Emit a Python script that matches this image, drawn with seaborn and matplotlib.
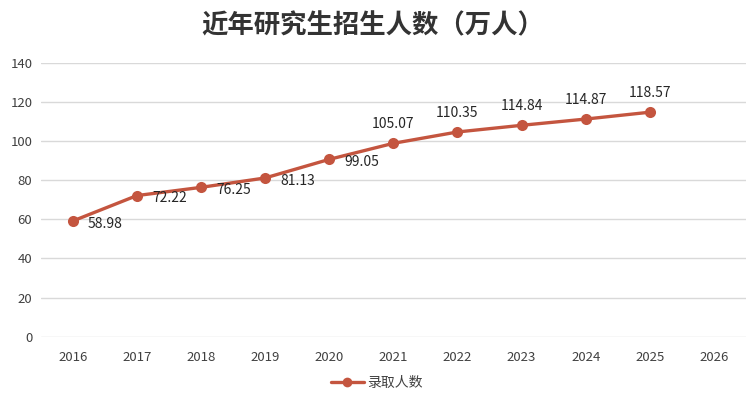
import matplotlib
matplotlib.use("Agg")
import matplotlib.pyplot as plt
import seaborn as sns
import pandas as pd
from matplotlib.lines import Line2D

years = [2016, 2017, 2018, 2019, 2020, 2021, 2022, 2023, 2024, 2025]
values = [59.1, 72.1, 76.3, 81.1, 90.6, 98.8, 104.6, 108.0, 111.2, 114.7]
labels = ["58.98", "72.22", "76.25", "81.13", "99.05", "105.07", "110.35", "114.84", "114.87", "118.57"]
xticks = [2016, 2017, 2018, 2019, 2020, 2021, 2022, 2023, 2024, 2025, 2026]
yticks = [0, 20, 40, 60, 80, 100, 120, 140]
title = "近年研究生招生人数（万人）"
series_name = "录取人数"

sns.set_theme(style="white")
plt.rcParams['font.family'] = ['Noto Sans CJK SC', 'DejaVu Sans']

color = "#C4553F"
df = pd.DataFrame({"year": years, "value": values})

fig = plt.figure(figsize=(7.53, 3.98), dpi=100)
ax = fig.add_axes([0.054, 0.154, 0.9367, 0.6885])
sns.lineplot(data=df, x="year", y="value", ax=ax, color=color, linewidth=2.4,
             marker="o", markersize=8, markeredgewidth=0, legend=False)

for i, (x, y, t) in enumerate(zip(years, values, labels)):
    if i < 5:
        ax.annotate(t, (x, y), xytext=(11, -2), textcoords="offset points",
                    ha="left", va="center", fontsize=10, color="#262626")
    else:
        ax.annotate(t, (x, y), xytext=(0, 14), textcoords="offset points",
                    ha="center", va="center", fontsize=10, color="#262626")

ax.set_xlim(2015.5, 2026.5)
ax.set_ylim(0, 140)
ax.set_xticks(xticks)
ax.set_xticklabels([str(v) for v in xticks])
ax.set_yticks(yticks)
ax.grid(axis="y", color="#d9d9d9", linewidth=1)
ax.set_axisbelow(True)
for s in ax.spines.values():
    s.set_visible(False)
ax.tick_params(axis="both", length=0, labelsize=9.5, colors="#404040")
ax.tick_params(axis="x", pad=10)
ax.tick_params(axis="y", pad=6)
ax.set_xlabel("")
ax.set_ylabel("")

fig.text(0.495, 0.935, title, ha="center", va="center", fontsize=19,
         fontweight="bold", color="#333333")

handle = Line2D([], [], color=color, linewidth=2.4, marker="o", markersize=7,
                markeredgewidth=0)
fig.legend([handle], [series_name], loc="center", bbox_to_anchor=(0.5, 0.037),
           frameon=False, fontsize=10, handlelength=2.4, handletextpad=0.2,
           labelcolor="#404040")

fig.savefig("out.png", dpi=100)
